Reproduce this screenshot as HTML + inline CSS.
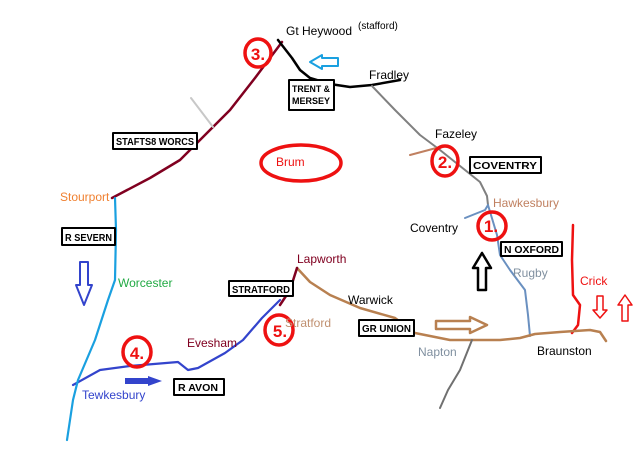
<!DOCTYPE html>
<html><head><style>
html,body{margin:0;padding:0;background:#fff;}
svg{display:block;}
text{font-family:"Liberation Sans",sans-serif;}
</style></head><body>
<svg width="640" height="457" viewBox="0 0 640 457" xmlns="http://www.w3.org/2000/svg">
<rect width="640" height="457" fill="#fff"/>
<g fill="none" stroke-linejoin="round" stroke-linecap="round">
<polyline points="112,198 150,178 180,160 200,140 230,110 255,78 282,42" stroke="#800020" stroke-width="2.5"/>
<line x1="191" y1="98" x2="213" y2="127" stroke="#c8c8c8" stroke-width="2"/>
<polyline points="278,40 292,58 300,70 310,78 330,84 350,87 372,85 400,80" stroke="#000" stroke-width="2.5"/>
<polyline points="372,86 395,110 420,135 440,150 465,170 480,182 487,196 488,205" stroke="#808080" stroke-width="2"/>
<line x1="410" y1="155" x2="440" y2="147" stroke="#c08060" stroke-width="2"/>
<polyline points="465,218 485,210 488,205 497,235 500,255 510,270 525,290 528,315 530,336" stroke="#6a90c0" stroke-width="2"/>
<polyline points="573,225 572,260 573,295 580,305 578,325 572,333" stroke="#ee1111" stroke-width="2.5"/>
<polyline points="297,268 310,282 330,295 360,308 395,318 415,333 450,340 500,340 520,338 535,334 560,332 590,330 600,332 606,341" stroke="#b88050" stroke-width="2.5"/>
<polyline points="472,340 460,370 448,390 440,408" stroke="#707070" stroke-width="2"/>
<polyline points="297,268 290,290 280,305" stroke="#800020" stroke-width="2.5"/>
<polyline points="73,385 100,370 130,366 178,362 188,370 198,368 225,353 243,340 262,318 280,300" stroke="#3344cc" stroke-width="2.2"/>
<polyline points="115,198 116,230 115,280 108,300 95,340 78,380 73,400 67,440" stroke="#1aa0e0" stroke-width="2.2"/>
<g stroke="#ee1111" stroke-width="3.5">
<ellipse cx="258" cy="53" rx="13" ry="14"/>
<ellipse cx="445" cy="161" rx="13" ry="15"/>
<ellipse cx="492" cy="226" rx="14" ry="14"/>
<ellipse cx="279" cy="330" rx="14" ry="15"/>
<ellipse cx="137" cy="352" rx="14" ry="15"/>
<ellipse cx="301" cy="163" rx="40" ry="18"/>
</g>
<g stroke="#000" stroke-width="2" fill="#fff">
<rect x="113" y="133" width="84" height="16"/>
<rect x="289" y="80" width="45" height="30"/>
<rect x="470" y="157" width="71" height="16"/>
<rect x="501" y="242" width="61" height="14"/>
<rect x="229" y="281" width="64" height="15"/>
<rect x="359" y="320" width="55" height="16"/>
<rect x="174" y="379" width="50" height="16"/>
<rect x="62" y="228" width="53" height="17"/>
</g>
<polygon points="338,58 322,58 322,55 310,62 322,69 322,66 338,66" stroke="#1aa0e0" stroke-width="2" fill="#fff"/>
<polygon points="80,262 88,262 88,285 92,285 84,305 76,285 80,285" stroke="#3344cc" stroke-width="2" fill="#fff"/>
<polygon points="478,290 486,290 486,268 491,268 482,253 473,268 478,268" stroke="#000" stroke-width="2.5" fill="#fff"/>
<polygon points="436,321 470,321 470,317 487,325 470,333 470,329 436,329" stroke="#b88050" stroke-width="2.5" fill="#fff"/>
<polygon points="597,296 603,296 603,310 607,310 600,318 593,310 597,310" stroke="#ee1111" stroke-width="1.5" fill="#fff"/>
<polygon points="622,321 628,321 628,305 632,305 625,295 618,305 622,305" stroke="#ee1111" stroke-width="1.5" fill="#fff"/>
</g>
<polygon points="125,378 148,378 148,376 162,381 148,386 148,384 125,384" fill="#3344cc"/>
<g font-size="10" font-weight="bold" fill="#000" lengthAdjust="spacingAndGlyphs">
<text x="116" y="145" textLength="78" lengthAdjust="spacingAndGlyphs">STAFTS8 WORCS</text>
<text x="292" y="92" font-size="9.5" textLength="38" lengthAdjust="spacingAndGlyphs">TRENT &amp;</text>
<text x="292" y="104" font-size="9.5" textLength="38" lengthAdjust="spacingAndGlyphs">MERSEY</text>
<text x="473" y="169" textLength="64" lengthAdjust="spacingAndGlyphs">COVENTRY</text>
<text x="504" y="253" textLength="55" lengthAdjust="spacingAndGlyphs">N OXFORD</text>
<text x="232" y="293" textLength="58" lengthAdjust="spacingAndGlyphs">STRATFORD</text>
<text x="362" y="332" textLength="49" lengthAdjust="spacingAndGlyphs">GR UNION</text>
<text x="178" y="391" textLength="40" lengthAdjust="spacingAndGlyphs">R AVON</text>
<text x="65" y="241" textLength="47" lengthAdjust="spacingAndGlyphs">R SEVERN</text>
</g>
<g font-size="12" fill="#000">
<text x="286" y="35">Gt Heywood</text>
<text x="358" y="29" font-size="10">(stafford)</text>
<text x="369" y="79">Fradley</text>
<text x="435" y="138">Fazeley</text>
<text x="410" y="232">Coventry</text>
<text x="348" y="304">Warwick</text>
<text x="537" y="355">Braunston</text>
<text x="493" y="207" fill="#c08060">Hawkesbury</text>
<text x="513" y="277" fill="#8090a0">Rugby</text>
<text x="580" y="285" fill="#ee1111">Crick</text>
<text x="297" y="263" fill="#800020">Lapworth</text>
<text x="285" y="327" fill="#c09070">Stratford</text>
<text x="187" y="347" fill="#800020">Evesham</text>
<text x="418" y="356" fill="#8090a0">Napton</text>
<text x="82" y="399" fill="#3344cc">Tewkesbury</text>
<text x="118" y="287" fill="#22aa44">Worcester</text>
<text x="60" y="201" fill="#f08030">Stourport</text>
<text x="276" y="166" fill="#ee1111">Brum</text>
</g>
<g font-size="17" font-weight="bold" fill="#ee1111" text-anchor="middle">
<text x="258" y="60">3.</text>
<text x="445" y="168">2.</text>
<text x="491" y="232">1.</text>
<text x="280" y="337">5.</text>
<text x="137" y="359">4.</text>
</g>
</svg>
</body></html>
